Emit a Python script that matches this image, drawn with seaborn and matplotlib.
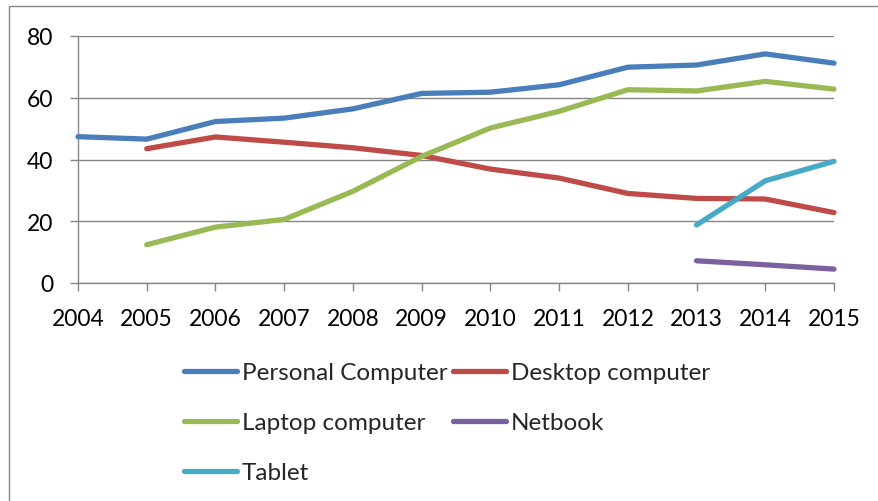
import numpy as np
import pandas as pd
import matplotlib
matplotlib.use("Agg")
import matplotlib.pyplot as plt
import seaborn as sns
from matplotlib.lines import Line2D
from matplotlib.patches import Rectangle

nan = np.nan

years = [2004, 2005, 2006, 2007, 2008, 2009, 2010, 2011, 2012, 2013, 2014, 2015]
personal_computer = [47.4, 46.6, 52.3, 53.4, 56.4, 61.4, 61.8, 64.2, 69.9, 70.6, 74.2, 71.2]
desktop_computer = [nan, 43.5, 47.3, 45.6, 43.8, 41.3, 36.9, 34.0, 29.0, 27.4, 27.2, 22.8]
laptop_computer = [nan, 12.4, 18.1, 20.6, 29.7, 41.0, 50.2, 55.6, 62.6, 62.2, 65.3, 62.8]
netbook = [nan, nan, nan, nan, nan, nan, nan, nan, nan, 7.2, 5.9, 4.5]
tablet = [nan, nan, nan, nan, nan, nan, nan, nan, nan, 18.8, 33.1, 39.4]

series_names = ["Personal Computer", "Desktop computer", "Laptop computer", "Netbook", "Tablet"]
series_values = [personal_computer, desktop_computer, laptop_computer, netbook, tablet]
series_colors = ["#4A7EBB", "#BE4B48", "#98B954", "#7D60A0", "#46AAC5"]
y_ticks = [0, 20, 40, 60, 80]

frames = []
for name, vals in zip(series_names, series_values):
    frames.append(pd.DataFrame({"Year": years, "Value": vals, "Device": name}))
df = pd.concat(frames, ignore_index=True).dropna()

sns.set_style("white")
plt.rcParams["font.family"] = ["Lato", "DejaVu Sans"]

W, H = 879, 502
fig = plt.figure(figsize=(W / 100, H / 100), dpi=100)
ax = fig.add_axes([78 / W, 1 - 284 / H, (834 - 78) / W, (284 - 37) / H])

palette = dict(zip(series_names, series_colors))
LW = 3.8
sns.lineplot(data=df, x="Year", y="Value", hue="Device", hue_order=series_names,
             palette=palette, linewidth=LW, ax=ax, legend=False, estimator=None,
             solid_capstyle="round", solid_joinstyle="round", clip_on=False, zorder=3)

grid_c = "#868686"
ax.set_xlim(years[0], years[-1])
ax.set_ylim(0, 80)
ax.set_yticks(y_ticks)
ax.set_xticks(years)
ax.set_xticklabels([str(y) for y in years])
ax.yaxis.grid(True, color=grid_c, linewidth=1.0, zorder=1)
ax.xaxis.grid(False)
ax.set_axisbelow(True)
for s in ["top", "right"]:
    ax.spines[s].set_visible(False)
for s in ["left", "bottom"]:
    ax.spines[s].set_color(grid_c)
    ax.spines[s].set_linewidth(1.0)
ax.tick_params(axis="both", which="major", direction="out", length=5.8, width=1.0,
               color=grid_c, labelsize=16.5, labelcolor="black", pad=12,
               left=True, bottom=True)
ax.set_xlabel("")
ax.set_ylabel("")

# Legend: first column PC / Laptop / Tablet, second column Desktop / Netbook
order = [0, 2, 4, 1, 3]
handles = [Line2D([0], [0], color=series_colors[i], linewidth=LW, solid_capstyle="round")
           for i in order]
labels = [series_names[i] for i in order]
fig.legend(handles, labels, ncol=2, loc="upper left",
           bbox_to_anchor=(184 / W, 1 - 363 / H), frameon=False, fontsize=17.5,
           handlelength=2.2, handletextpad=0.18, columnspacing=0.22,
           labelspacing=1.2, borderpad=0, borderaxespad=0)

# Chart area border
fig.add_artist(Rectangle((9 / W, -0.5), 2.0, 0.5 + (1 - 7 / H), transform=fig.transFigure,
                         fill=False, edgecolor=grid_c, linewidth=1.0))

fig.savefig("out.png", dpi=100)
